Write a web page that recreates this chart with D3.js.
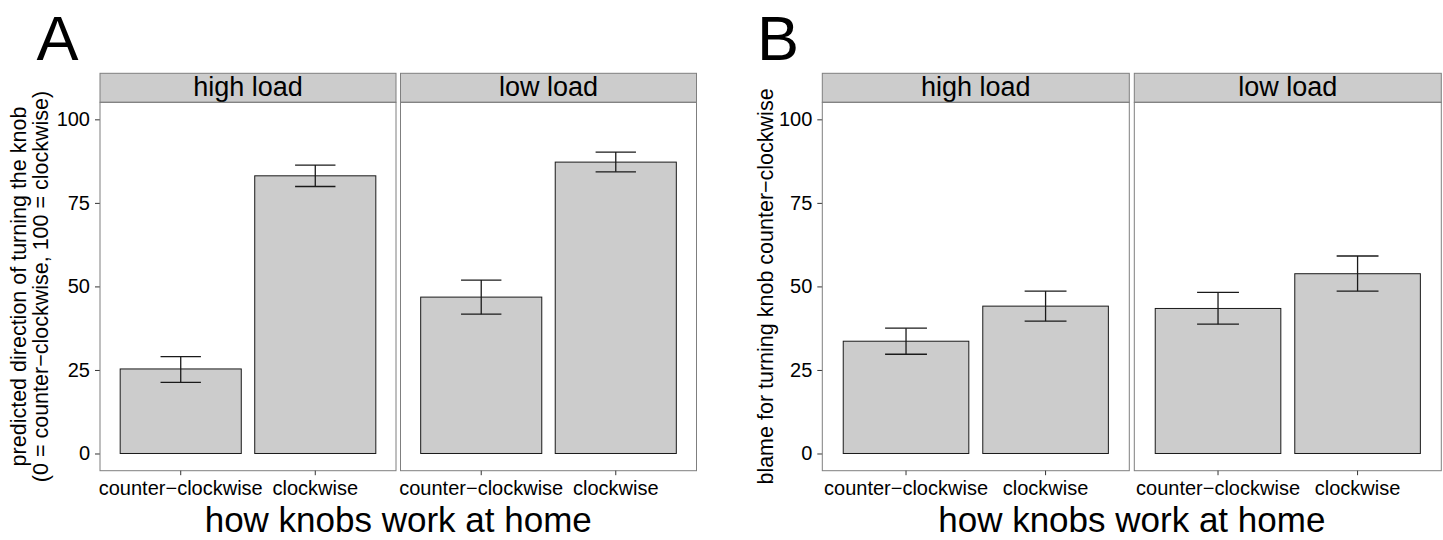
<!DOCTYPE html>
<html>
<head>
<meta charset="utf-8">
<title>Knob direction and blame</title>
<script src="https://d3js.org/d3.v7.min.js"></script>
<style>
  html, body { margin: 0; padding: 0; background: #fff; }
  svg { display: block; }
  text { font-family: "Liberation Sans", Arial, Helvetica, sans-serif; fill: #000; }
  .panel-border { fill: none; stroke: #7f7f7f; stroke-width: 1; }
  .strip { fill: #cccccc; stroke: #7f7f7f; stroke-width: 1; }
  .bar { fill: #cccccc; stroke: #1a1a1a; stroke-width: 1; }
  .err { stroke: #1a1a1a; stroke-width: 1.3; fill: none; }
  .axis path { display: none; }
  .axis line { stroke: #333; stroke-width: 1; }
</style>
</head>
<body>
<script>

// facets and categories
var loads = ["high load", "low load"];
var directions = ["counter\u2212clockwise", "clockwise"];
var yTicks = [0, 25, 50, 75, 100];

// A: predicted direction, [load][direction]
var predictMean  = [[25.3, 83.1], [46.8, 87.2]];
var predictLower = [[21.3, 79.9], [41.7, 84.3]];
var predictUpper = [[29.0, 86.3], [51.9, 90.2]];

// B: blame for turning counter-clockwise, [load][direction]
var blameMean  = [[33.6, 44.1], [43.4, 53.8]];
var blameLower = [[29.7, 39.6], [38.7, 48.6]];
var blameUpper = [[37.5, 48.6], [48.2, 59.1]];

var width = 1443,
    height = 540;

var svg = d3.select("body").append("svg")
    .attr("width", width)
    .attr("height", height);

var stripTop = 73.3, panelTop = 102.3, panelBottom = 470.7;

var y = d3.scaleLinear()
    .domain([-5.15, 105.1])
    .range([panelBottom, panelTop]);

function drawFigure(opt) {
  var g = svg.append("g");
  var panelW = (opt.right - opt.left - opt.gap) / 2;

  // letter
  g.append("text")
      .attr("x", opt.letterX)
      .attr("y", 60)
      .style("font-size", "63px")
      .text(opt.letter);

  // y axis ticks + labels on the first facet only
  var yAxis = d3.axisLeft(y).tickValues(yTicks).tickSize(5).tickPadding(5);
  g.append("g")
      .attr("class", "axis")
      .attr("transform", "translate(" + opt.left + ",0)")
      .call(yAxis)
      .call(function(s) {
        s.selectAll("text").style("font-size", "20px").attr("fill", "#000");
      });

  loads.forEach(function(load, i) {
    var x0 = opt.left + i * (panelW + opt.gap);
    var x = d3.scaleBand()
        .domain(directions)
        .range([x0, x0 + panelW])
        .paddingInner(0.1)
        .paddingOuter(0.15);
    var cap = x.step() * 0.15;

    // strip
    g.append("rect")
        .attr("class", "strip")
        .attr("x", x0).attr("y", stripTop)
        .attr("width", panelW).attr("height", panelTop - stripTop);
    g.append("text")
        .attr("x", x0 + panelW / 2)
        .attr("y", 96)
        .attr("text-anchor", "middle")
        .style("font-size", "27px")
        .text(load);

    var rows = directions.map(function(d, j) {
      return { dir: d, mean: opt.mean[i][j], lo: opt.lower[i][j], hi: opt.upper[i][j] };
    });

    var pg = g.append("g");

    pg.selectAll(".bar")
        .data(rows)
        .enter().append("rect")
        .attr("class", "bar")
        .attr("x", function(d) { return x(d.dir); })
        .attr("width", x.bandwidth())
        .attr("y", function(d) { return y(d.mean); })
        .attr("height", function(d) { return y(0) - y(d.mean); });

    var eb = pg.selectAll(".eb")
        .data(rows)
        .enter().append("g")
        .attr("class", "err");
    eb.append("line")
        .attr("x1", function(d) { return x(d.dir) + x.bandwidth() / 2; })
        .attr("x2", function(d) { return x(d.dir) + x.bandwidth() / 2; })
        .attr("y1", function(d) { return y(d.lo); })
        .attr("y2", function(d) { return y(d.hi); });
    eb.append("line")
        .attr("x1", function(d) { return x(d.dir) + x.bandwidth() / 2 - cap; })
        .attr("x2", function(d) { return x(d.dir) + x.bandwidth() / 2 + cap; })
        .attr("y1", function(d) { return y(d.hi); })
        .attr("y2", function(d) { return y(d.hi); });
    eb.append("line")
        .attr("x1", function(d) { return x(d.dir) + x.bandwidth() / 2 - cap; })
        .attr("x2", function(d) { return x(d.dir) + x.bandwidth() / 2 + cap; })
        .attr("y1", function(d) { return y(d.lo); })
        .attr("y2", function(d) { return y(d.lo); });

    // panel border
    g.append("rect")
        .attr("class", "panel-border")
        .attr("x", x0).attr("y", panelTop)
        .attr("width", panelW).attr("height", panelBottom - panelTop);

    // x axis
    var xAxis = d3.axisBottom(x).tickSize(4.5).tickPadding(3);
    g.append("g")
        .attr("class", "axis")
        .attr("transform", "translate(0," + panelBottom + ")")
        .call(xAxis)
        .call(function(s) {
          s.selectAll("text")
              .attr("y", 24.5).attr("dy", 0)
              .attr("fill", "#000")
              .style("font-size", "20px");
        });
  });

  // x title
  g.append("text")
      .attr("x", (opt.left + opt.right) / 2)
      .attr("y", 532)
      .attr("text-anchor", "middle")
      .style("font-size", "35px")
      .text("how knobs work at home");

  // y title
  opt.yTitle.forEach(function(line, k) {
    g.append("text")
        .attr("transform", "translate(" + opt.yTitleX[k] + "," + ((panelTop + panelBottom) / 2) + ") rotate(-90)")
        .attr("text-anchor", "middle")
        .style("font-size", "21.5px")
        .text(line);
  });
}

drawFigure({
  letter: "A", letterX: 36.5,
  left: 100, right: 696.5, gap: 4.5,
  mean: predictMean, lower: predictLower, upper: predictUpper,
  yTitle: ["predicted direction of turning the knob", "(0 = counter\u2212clockwise, 100 = clockwise)"],
  yTitleX: [26, 48]
});

drawFigure({
  letter: "B", letterX: 757,
  left: 822.3, right: 1441.3, gap: 5,
  mean: blameMean, lower: blameLower, upper: blameUpper,
  yTitle: ["blame for turning knob counter\u2212clockwise"],
  yTitleX: [773]
});

</script>
</body>
</html>
